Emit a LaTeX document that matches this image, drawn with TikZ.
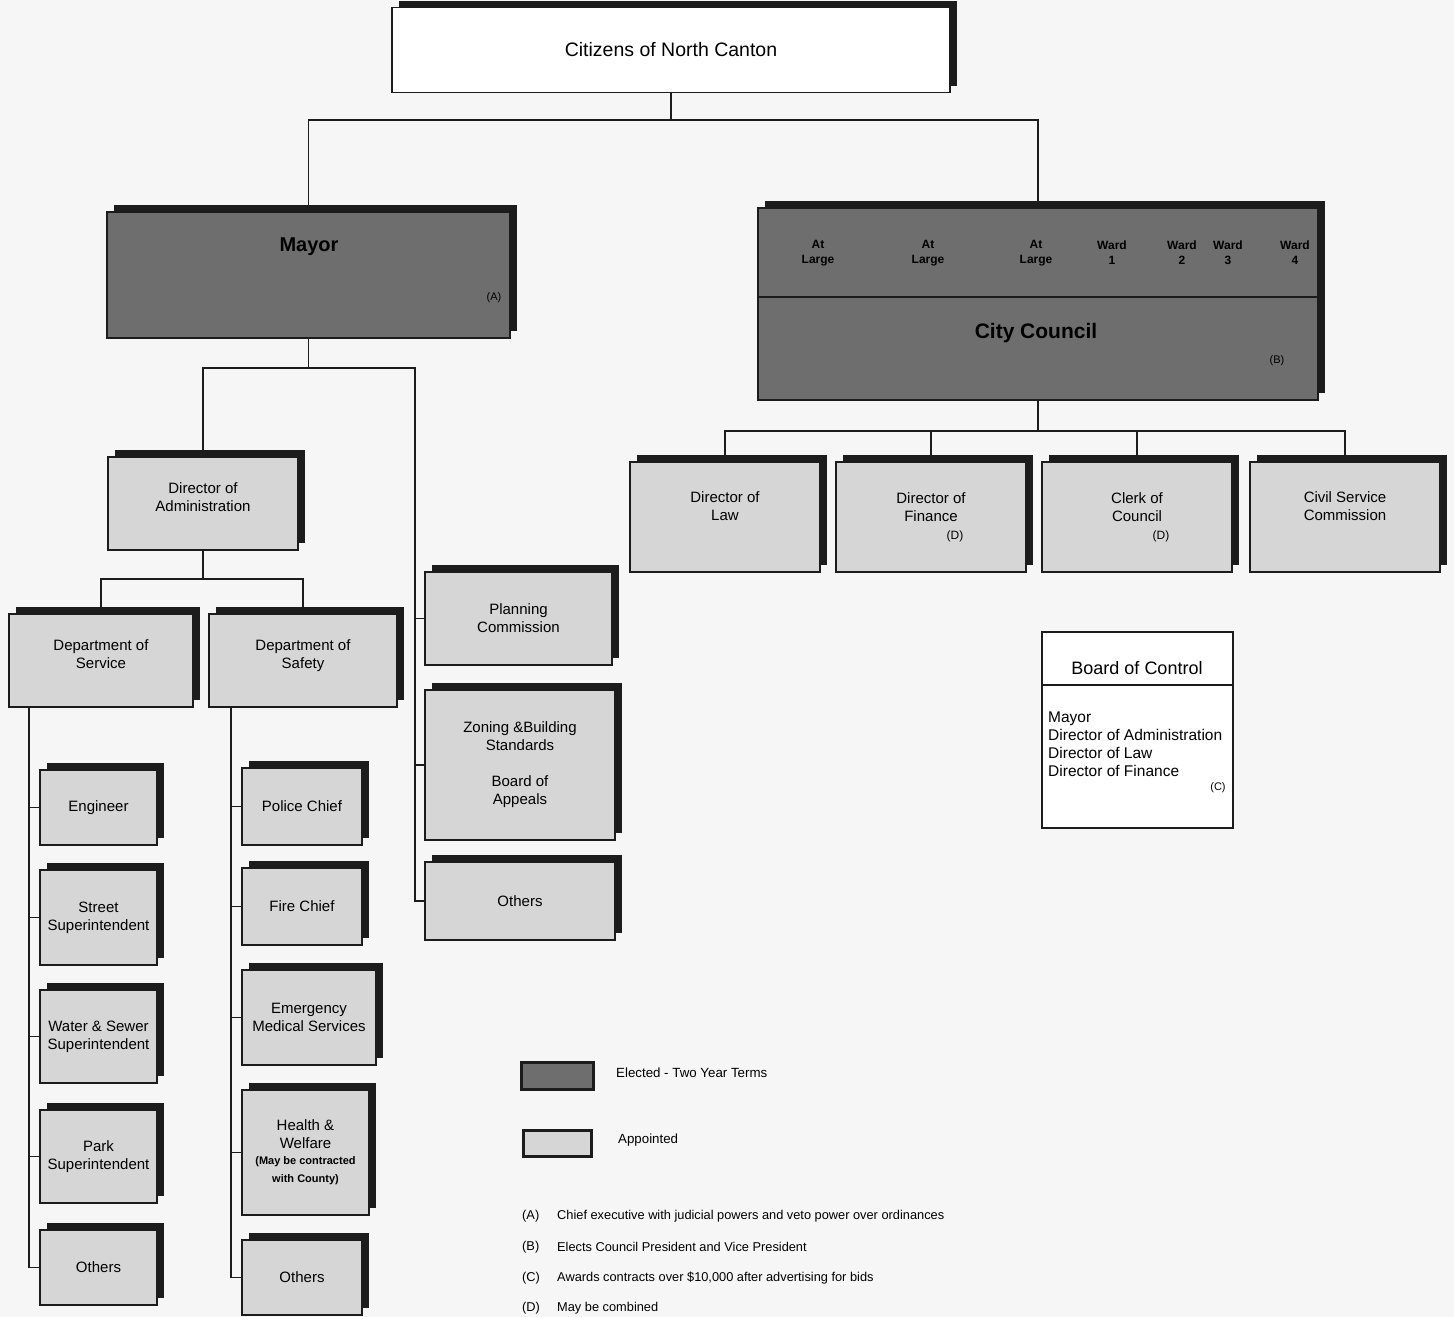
\documentclass[tikz,border=0pt]{standalone}
\usepackage{fontspec}
\setmainfont{Liberation Sans}
\usetikzlibrary{positioning,calc,shadows}
\definecolor{ink}{RGB}{28,28,28}
\definecolor{elect}{RGB}{110,110,110}
\definecolor{appoint}{RGB}{214,214,214}
\definecolor{paper}{RGB}{246,246,246}

\tikzset{
  office/.style={draw=ink, line width=1.6pt, align=center, inner sep=2pt,
    font=\fontsize{15}{18}\selectfont},
  lifted/.style={drop shadow={shadow xshift=7pt, shadow yshift=7pt,
    opacity=1, fill=ink}},
  elected/.style={office, lifted, fill=elect},
  appointed/.style={office, lifted, fill=appoint},
  wire/.style={draw=ink, line width=1.8pt},
  tag/.style={inner sep=0pt, font=\fontsize{11}{13}\selectfont},
  ward/.style={inner sep=0pt, align=center, font=\bfseries\fontsize{12}{15}\selectfont},
  note/.style={inner sep=0pt, anchor=west, font=\fontsize{12.8}{15}\selectfont},
}
\newcommand{\smallbold}{\bfseries\fontsize{11}{14}\selectfont}

\begin{document}
\begin{tikzpicture}[x=1pt, y=-1pt]
  \fill[paper] (0,0) rectangle (1454,1317);
  \useasboundingbox (0,0) rectangle (1454,1317);

  % top of the chart
  \node[office, lifted, fill=white, minimum width=558pt, minimum height=85pt,
        font=\fontsize{19.5}{22}\selectfont] (citizens) at (671,50)
        {Citizens of North Canton};

  \node[elected, minimum width=403pt, minimum height=126pt] (mayor) at (308.5,275) {};
  \node[inner sep=0pt, font=\bfseries\fontsize{20}{24}\selectfont] (mayorlbl) at (309,247) {Mayor};
  \node[tag] (mayornote) at (494,298) {(A)};

  \node[elected, minimum width=560pt, minimum height=103pt] (council) at (1038,348.5) {};
  \node[elected, minimum width=560pt, minimum height=89pt] (wards) at (1038,252.5) {};
  \foreach \x/\t [count=\i] in {818/At\\Large, 928/At\\Large, 1036/At\\Large,
      1112/Ward\\1, 1182/Ward\\2, 1228/Ward\\3, 1295/Ward\\4}
    \node[ward] (ward\i) at (\x,253) {\t};
  \node[inner sep=0pt, font=\bfseries\fontsize{21}{24}\selectfont] (councillbl) at (1036,333) {City Council};
  \node[tag] (councilnote) at (1277,361) {(B)};

  % mayor's side
  \node[appointed, minimum width=190pt, minimum height=93pt] (doa) at (203,503.5)
    {Director of\\Administration\\[-6pt]};
  \node[appointed, minimum width=184pt, minimum height=93pt] (serv) at (101,660.5)
    {Department of\\Service\\[-6pt]};
  \node[appointed, minimum width=188pt, minimum height=93pt] (safe) at (303,660.5)
    {Department of\\Safety\\[-6pt]};

  \node[appointed, minimum width=117pt, minimum height=75pt] (eng) at (98.5,807.5) {Engineer};
  \node[appointed, minimum width=117pt, minimum height=95pt] (street) at (98.5,917.5)
    {Street\\Superintendent};
  \node[appointed, minimum width=117pt, minimum height=93pt] (water) at (98.5,1036.5)
    {Water \& Sewer\\Superintendent};
  \node[appointed, minimum width=117pt, minimum height=93pt] (park) at (98.5,1156.5)
    {Park\\Superintendent};
  \node[appointed, minimum width=117pt, minimum height=75pt] (servoth) at (98.5,1267.5) {Others};

  \node[appointed, minimum width=120pt, minimum height=77pt] (police) at (302,806.5) {Police Chief};
  \node[appointed, minimum width=120pt, minimum height=77pt] (fire) at (302,906.5) {Fire Chief};
  \node[appointed, minimum width=134pt, minimum height=95pt] (ems) at (309,1017.5)
    {Emergency\\Medical Services};
  \node[appointed, minimum width=127pt, minimum height=125pt] (health) at (305.5,1152.5)
    {Health \&\\Welfare\\[-2pt]\smallbold (May be contracted\\\smallbold with County)};
  \node[appointed, minimum width=120pt, minimum height=75pt] (safeoth) at (302,1277.5) {Others};

  \node[appointed, minimum width=187pt, minimum height=93pt] (plan) at (518.5,618.5)
    {Planning\\Commission};
  \node[appointed, minimum width=190pt, minimum height=150pt] (zoning) at (520,765)
    {Zoning \&Building\\Standards\\[18pt]Board of\\Appeals};
  \node[appointed, minimum width=190pt, minimum height=78pt] (planoth) at (520,901) {Others};

  % council's side
  \node[appointed, minimum width=190pt, minimum height=110pt] (law) at (725,517)
    {Director of\\Law\\\phantom{(D)}};
  \node[appointed, minimum width=190pt, minimum height=110pt] (fin) at (931,517)
    {Director of\\Finance\\\hspace{3.2em}\fontsize{12}{14}\selectfont(D)};
  \node[appointed, minimum width=190pt, minimum height=110pt] (clerk) at (1137,517)
    {Clerk of\\Council\\\hspace{3.2em}\fontsize{12}{14}\selectfont(D)};
  \node[appointed, minimum width=190pt, minimum height=110pt] (civil) at (1345,517)
    {Civil Service\\Commission\\\phantom{(D)}};

  \node[draw=ink, line width=1.3pt, fill=white, minimum width=191pt, minimum height=196pt]
    (board) at (1137.5,730) {};
  \draw[ink, line width=1.1pt] (board.west |- 0,685) -- (board.east |- 0,685);
  \node[inner sep=0pt, font=\fontsize{18}{22}\selectfont] (boardlbl) at (1137,668) {Board of Control};
  \node[inner sep=0pt, anchor=north west, align=left, font=\fontsize{15.5}{18}\selectfont]
    (boardlist) at (1048,712) {Mayor\\Director of Administration\\Director of Law\\Director of Finance};
  \node[tag] (boardnote) at (1218,788) {(C)};

  % connectors
  \draw[wire] (citizens.south) -- ++(0,27) coordinate (cj);
  \draw[wire] (mayor.north) |- (cj) -| (wards.north);

  \draw[wire] (mayor.south) -- ++(0,30) coordinate (mj);
  \coordinate (mr) at (415,368);
  \draw[wire] (doa.north) |- (mr) |- (planoth.west);
  \draw[wire] (mr |- plan.west) -- (plan.west);
  \draw[wire] (mr |- zoning.west) -- (zoning.west);

  \draw[wire] (doa.south) -- ++(0,28) coordinate (dj);
  \draw[wire] (serv.north) |- (dj) -| (safe.north);

  \coordinate (sv) at ([xshift=21pt]serv.south west);
  \draw[wire] (sv) |- (servoth.west);
  \foreach \n in {eng,street,water,park}
    \draw[wire] (sv |- \n.west) -- (\n.west);

  \coordinate (sf) at ([xshift=23pt]safe.south west);
  \draw[wire] (sf) |- (safeoth.west);
  \foreach \n in {police,fire,ems,health}
    \draw[wire] (sf |- \n.west) -- (\n.west);

  \draw[wire] (council.south) -- ++(0,30) coordinate (kj);
  \draw[wire] (law.north) |- (kj) -| (civil.north);
  \foreach \n in {fin,clerk}
    \draw[wire] (\n.north) -- (\n.north |- kj);

  % legend and notes
  \node[draw=ink, line width=3pt, fill=elect, minimum width=72pt, minimum height=27pt]
    (keyelect) at (557.5,1076) {};
  \node[note, font=\fontsize{13.3}{15}\selectfont] (keyelectlbl) at (616,1073) {Elected - Two Year Terms};
  \node[draw=ink, line width=2.6pt, fill=appoint, minimum width=68pt, minimum height=26pt]
    (keyappoint) at (557.5,1143.5) {};
  \node[note, font=\fontsize{13.3}{15}\selectfont] (keyappointlbl) at (618,1140) {Appointed};

  \foreach \y/\k/\t in {1216/A/Chief executive with judicial powers and veto power over ordinances,
      1247/B/Elects Council President and Vice President,
      1278/C/Awards contracts over \$10{,}000 after advertising for bids,
      1308/D/May be combined} {
    \node[note] (key\k) at (522,\y) {(\k)};
    \node[note] (note\k) at (557,\y) {\t};
  }
\end{tikzpicture}
\end{document}
